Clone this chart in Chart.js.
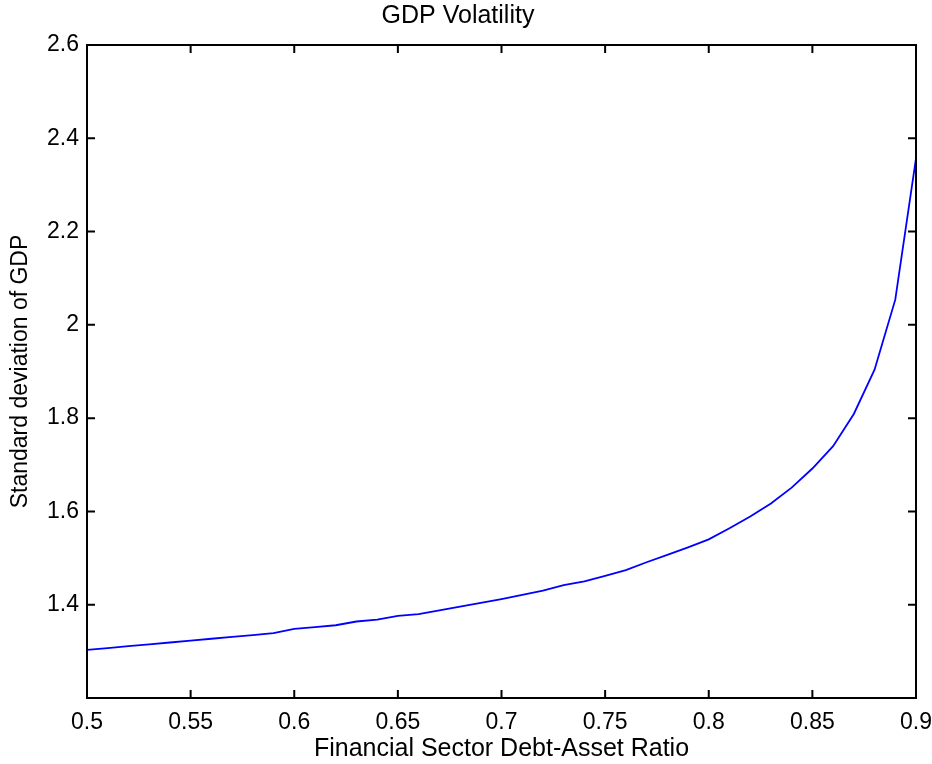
<!DOCTYPE html>
<html>
<head>
<meta charset="utf-8">
<title>GDP Volatility</title>
<script src="https://cdn.jsdelivr.net/npm/chart.js@4"></script>
<style>
  html, body { margin: 0; padding: 0; background: #fff; overflow: hidden; }
  #wrap { width: 932px; height: 764px; position: relative; }
</style>
</head>
<body>
<div id="wrap"><canvas id="gdpChart"></canvas></div>
<script>
// debt-asset ratio (x) and std. deviation of GDP (y)
const ratio = [
  0.50, 0.51, 0.52, 0.53, 0.54, 0.55, 0.56, 0.57, 0.58, 0.59,
  0.60, 0.61, 0.62, 0.63, 0.64, 0.65, 0.66, 0.67, 0.68, 0.69,
  0.70, 0.71, 0.72, 0.73, 0.74, 0.75, 0.76, 0.77, 0.78, 0.79,
  0.80, 0.81, 0.82, 0.83, 0.84, 0.85, 0.86, 0.87, 0.88, 0.89, 0.90
];
const gdpStd = [
  1.303, 1.307, 1.311, 1.315, 1.319, 1.323, 1.327, 1.331, 1.335, 1.339,
  1.348, 1.352, 1.356, 1.364, 1.368, 1.376, 1.380, 1.388, 1.396, 1.404,
  1.412, 1.421, 1.430, 1.442, 1.450, 1.462, 1.474, 1.491, 1.507, 1.523,
  1.540, 1.564, 1.589, 1.617, 1.651, 1.692, 1.740, 1.809, 1.904, 2.054, 2.357
];
const xTicks = [0.5, 0.55, 0.6, 0.65, 0.7, 0.75, 0.8, 0.85, 0.9];
const yTicks = [1.2, 1.4, 1.6, 1.8, 2.0, 2.2, 2.4, 2.6];

const FONT = "'Liberation Sans', Arial, Helvetica, sans-serif";
const fmt = v => String(+v.toFixed(2));

// matlab style box with inward tick marks on all four sides
const boxTicks = {
  id: "boxTicks",
  afterDraw(chart) {
    const { ctx, chartArea: a, scales } = chart;
    const len = 8;
    ctx.save();
    ctx.strokeStyle = "#000";
    ctx.lineWidth = 2;
    ctx.beginPath();
    xTicks.forEach(v => {
      const px = scales.x.getPixelForValue(v);
      ctx.moveTo(px, a.bottom); ctx.lineTo(px, a.bottom - len);
      ctx.moveTo(px, a.top); ctx.lineTo(px, a.top + len);
    });
    yTicks.forEach(v => {
      const py = scales.y.getPixelForValue(v);
      ctx.moveTo(a.left, py); ctx.lineTo(a.left + len, py);
      ctx.moveTo(a.right, py); ctx.lineTo(a.right - len, py);
    });
    ctx.stroke();
    ctx.strokeRect(a.left, a.top, a.right - a.left, a.bottom - a.top);
    ctx.restore();
  }
};

const ctx = document.getElementById("gdpChart").getContext("2d");
const chart = new Chart(ctx, {
  type: "line",
  data: {
    datasets: [
      {
        data: ratio.map((x, i) => ({ x: x, y: gdpStd[i] })),
        borderColor: "#0000ff",
        borderWidth: 1.8,
        pointRadius: 0,
        fill: false,
        tension: 0,
      },
    ],
  },
  options: {
    responsive: true,
    maintainAspectRatio: false,
    animation: false,
    layout: { padding: { left: 0, right: 16, top: 0, bottom: 0 } },
    plugins: {
      legend: { display: false },
      tooltip: { enabled: false },
      title: {
        display: true,
        text: "GDP Volatility",
        color: "#000",
        font: { family: FONT, size: 25, weight: "normal", lineHeight: 1 },
        padding: { top: 4, bottom: 16 },
      },
    },
    scales: {
      x: {
        type: "linear",
        min: 0.5,
        max: 0.9,
        grid: { display: false, drawTicks: false },
        border: { display: false },
        ticks: {
          stepSize: 0.05,
          maxRotation: 0,
          autoSkip: false,
          padding: 11,
          color: "#000",
          font: { family: FONT, size: 23 },
          callback: v => fmt(v),
        },
        title: {
          display: true,
          text: "Financial Sector Debt-Asset Ratio",
          color: "#000",
          font: { family: FONT, size: 25, lineHeight: 1 },
          padding: { top: 0, bottom: 2 },
        },
        afterFit(s) {
          s.height = 66;
          s.paddingLeft = 0;
          s.paddingRight = 0;
        },
      },
      y: {
        type: "linear",
        min: 1.2,
        max: 2.6,
        grid: { display: false, drawTicks: false },
        border: { display: false },
        ticks: {
          stepSize: 0.2,
          padding: 8,
          color: "#000",
          font: { family: FONT, size: 23 },
          callback: v => (Math.abs(v - 1.2) < 1e-9 ? "" : fmt(v)),
        },
        title: {
          display: true,
          text: "Standard deviation of GDP",
          color: "#000",
          font: { family: FONT, size: 23, lineHeight: 1 },
          padding: { top: 9, bottom: 0 },
        },
        afterFit(s) {
          s.width = 87;
          s.paddingTop = 0;
          s.paddingBottom = 0;
        },
      },
    },
  },
  plugins: [boxTicks],
});
</script>
</body>
</html>
